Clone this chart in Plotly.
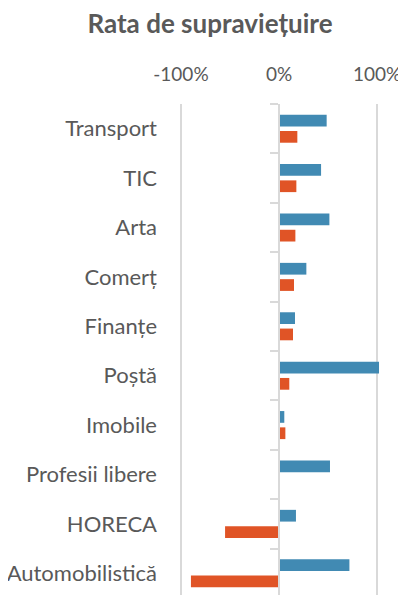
import plotly.graph_objects as go

categories = ["Transport", "TIC", "Arta", "Comerț", "Finanțe", "Poștă",
              "Imobile", "Profesii libere", "HORECA", "Automobilistică"]
series_blue = [0.486, 0.429, 0.514, 0.279, 0.163, 1.02, 0.054, 0.52, 0.173, 0.718]
series_orange = [0.187, 0.177, 0.167, 0.153, 0.143, 0.105, 0.065, 0.0, -0.55, -0.898]
x_tickvals = [-1, 0, 1]
x_ticktext = ["-100%", "0%", "100%"]
title_text = "Rata de supraviețuire"

BLUE = "#418AB3"
ORANGE = "#E05426"
GRID = "#d9d9d9"
TXT = "#595959"
FONT = "Lato"

# page body has an 8px default margin; figure sized to fill the rest
OFF = 8
W, H = 406 - OFF, 595 - OFF
xr = [-1.03, 1.03]
L = 178 - OFF
R = W - (380 - OFF)
T = 104 - OFF
B = 0
n = len(categories)
yr = [n - 0.56, -0.5]

fig = go.Figure()
fig.add_trace(go.Bar(y=categories, x=series_blue, orientation="h",
                     marker=dict(color=BLUE, line=dict(width=0)),
                     name="s1", hoverinfo="skip"))
fig.add_trace(go.Bar(y=categories, x=series_orange, orientation="h",
                     marker=dict(color=ORANGE, line=dict(width=0)),
                     name="s2", hoverinfo="skip"))
# invisible helper trace carrying the category-boundary tick axis at x=0
fig.add_trace(go.Scatter(x=[0], y=[0], yaxis="y2", mode="markers",
                         marker=dict(opacity=0), showlegend=False, hoverinfo="skip"))

pos0 = (0 - xr[0]) / (xr[1] - xr[0])

fig.update_layout(
    width=W, height=H,
    margin=dict(l=L, r=R, t=T, b=B, pad=0),
    paper_bgcolor="white", plot_bgcolor="white",
    barmode="group", bargap=0.34, bargroupgap=0.28,
    showlegend=False,
    title=dict(text="<b>" + title_text + "</b>", x=(210 - OFF) / W, xanchor="center",
               y=1 - (24 - OFF) / H, yanchor="middle",
               font=dict(family=FONT, size=26, color=TXT)),
    xaxis=dict(range=xr, side="top", tickvals=x_tickvals, ticktext=x_ticktext,
               showgrid=True, gridcolor=GRID, gridwidth=2,
               zeroline=False, showline=False, ticks="",
               tickfont=dict(family=FONT, size=19, color=TXT),
               ticklabelstandoff=18, fixedrange=True),
    yaxis=dict(range=yr, type="category", categoryarray=categories,
               showgrid=False, zeroline=False, showline=False, ticks="",
               tickfont=dict(family=FONT, size=22, color=TXT),
               ticklabelstandoff=20, fixedrange=True),
    yaxis2=dict(overlaying="y", anchor="free", position=pos0, side="left",
                range=yr, tickvals=[i - 0.5 for i in range(n + 1)],
                ticks="outside", ticklen=8, tickwidth=2, tickcolor=GRID,
                showline=True, linecolor=GRID, linewidth=2,
                showticklabels=False, showgrid=False, zeroline=False,
                fixedrange=True),
)

fig.write_html("out.html")
